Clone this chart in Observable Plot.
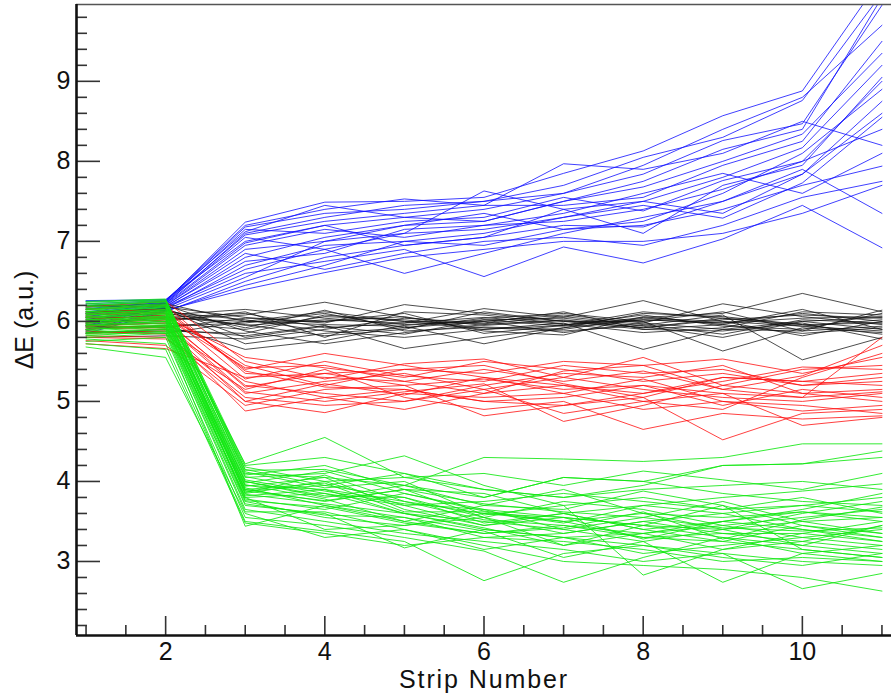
<!DOCTYPE html>
<html>
<head>
<meta charset="utf-8">
<script src="https://cdn.jsdelivr.net/npm/d3@7"></script>
<script src="https://cdn.jsdelivr.net/npm/@observablehq/plot@0.6"></script>
<style>
  html, body { margin: 0; padding: 0; background: #fff; }
  #chart { width: 891px; height: 695px; overflow: hidden; }
  #chart g[aria-label="x-axis label"] text { letter-spacing: 1.9px; }
</style>
</head>
<body>
<div id="chart"></div>
<script>
// Strip numbers (x positions of each measurement)
const strips = [1, 2, 3, 4, 5, 6, 7, 8, 9, 10, 11];

// Axis ticks
const xMajor = [2, 4, 6, 8, 10];
const xMinor = [1, 1.5, 2.5, 3, 3.5, 4.5, 5, 5.5, 6.5, 7, 7.5, 8.5, 9, 9.5, 10.5, 11];
const yMajor = [3, 4, 5, 6, 7, 8, 9];
const yMinor = [2.2, 2.4, 2.6, 2.8, 3.2, 3.4, 3.6, 3.8, 4.2, 4.4, 4.6, 4.8, 5.2, 5.4, 5.6, 5.8,
                6.2, 6.4, 6.6, 6.8, 7.2, 7.4, 7.6, 7.8, 8.2, 8.4, 8.6, 8.8, 9.2, 9.4, 9.6, 9.8];
const xDomain = [0.88, 11.12];
const yDomain = [2.075, 9.96];

// ΔE per strip — blue group
const blueRuns = [
  [6.20,6.25,7.24,7.49,7.50,7.55,7.85,8.13,8.57,8.88,10.3],
  [6.10,6.22,7.10,7.30,7.45,7.50,7.70,8.05,8.30,8.76,10.1],
  [6.25,6.27,7.00,7.20,7.30,7.40,7.60,7.84,8.26,8.47,9.95],
  [5.95,6.18,6.80,7.05,7.20,7.25,7.50,7.68,8.00,8.34,9.35],
  [6.05,6.20,6.90,7.00,7.10,7.63,7.40,7.50,7.80,8.17,9.20],
  [6.15,6.24,7.15,7.10,7.25,7.30,7.55,7.38,7.76,8.00,9.00],
  [5.85,6.12,6.50,6.80,6.95,7.05,7.20,7.18,7.50,7.84,8.75],
  [6.00,6.16,6.70,6.95,7.00,7.10,7.30,7.45,7.29,7.73,8.55],
  [6.22,6.26,7.20,7.40,7.53,7.45,7.97,7.90,8.10,8.50,8.20],
  [5.90,6.14,6.40,6.61,6.80,6.90,7.00,7.00,7.10,7.35,7.70],
  [6.08,6.21,6.95,7.15,7.05,7.20,7.35,7.60,7.85,7.60,8.10],
  [6.12,6.23,7.05,6.90,6.60,6.85,7.10,7.30,7.50,7.90,7.35],
  [5.98,6.17,6.60,6.75,6.90,6.56,6.93,6.73,7.03,7.45,6.92],
  [6.18,6.25,7.18,7.35,7.40,7.50,7.60,7.95,8.40,8.80,9.70],
  [6.02,6.19,6.75,6.85,7.15,7.20,7.25,7.40,7.65,8.00,8.40],
  [5.88,6.13,6.45,6.70,7.00,6.95,7.15,7.20,7.40,7.70,7.94],
  [6.16,6.24,7.08,7.25,7.35,7.45,7.45,7.55,7.95,8.25,9.50],
  [6.06,6.20,6.85,6.65,6.85,7.00,7.05,6.95,7.20,7.55,7.75],
  [5.94,6.15,6.55,7.00,7.20,7.35,7.15,7.25,7.60,8.10,8.90],
  [6.26,6.27,7.12,7.45,7.30,7.25,7.50,7.75,8.15,8.40,10.05],
  [6.00,6.18,6.65,6.90,7.10,7.15,7.30,7.50,7.35,7.84,8.60],
  [6.10,6.22,6.98,7.20,6.95,7.05,7.40,7.10,7.70,7.95,9.05]
];

// ΔE per strip — black group
const blackRuns = [
  [6.05,6.10,5.95,6.02,5.98,6.05,5.96,6.02,5.98,6.10,6.00],
  [5.98,6.02,6.08,6.24,6.05,5.95,6.01,5.92,6.04,5.96,5.98],
  [6.12,6.15,5.72,5.85,5.92,6.00,6.08,5.98,5.90,5.88,5.94],
  [5.90,5.95,5.65,5.76,5.95,6.02,5.94,6.05,6.10,6.35,6.12],
  [6.20,6.18,6.05,5.98,6.21,6.10,6.00,5.90,5.96,5.85,5.92],
  [5.85,5.90,5.82,5.95,5.66,5.80,5.92,6.02,5.98,6.04,6.06],
  [6.00,6.05,6.10,5.92,5.98,6.16,6.05,6.26,6.00,5.94,6.02],
  [5.95,5.98,5.90,6.06,6.02,5.92,5.88,5.95,6.08,5.52,5.80],
  [6.08,6.12,6.02,5.88,5.80,5.90,5.98,5.65,5.90,6.00,5.90],
  [5.92,5.94,5.98,6.10,5.92,6.04,6.10,6.00,5.63,5.92,5.86],
  [6.15,6.20,5.88,5.72,5.86,5.96,6.02,5.92,6.02,6.08,6.04],
  [5.88,5.85,6.00,6.00,6.10,5.85,5.95,6.08,5.94,5.90,6.10],
  [6.02,6.08,6.15,6.04,5.96,6.00,5.86,5.98,6.22,6.06,5.96],
  [5.80,5.82,5.78,5.90,6.04,5.98,6.12,5.90,5.88,5.98,5.78],
  [6.10,6.14,5.92,6.14,5.88,5.93,5.90,6.04,6.00,5.82,6.00],
  [5.96,6.00,6.12,5.80,6.12,6.08,5.97,5.86,5.92,6.12,6.08],
  [6.18,6.22,6.00,5.96,5.94,5.72,5.92,6.10,6.06,5.96,5.84],
  [5.86,5.88,5.85,6.08,6.00,5.97,6.06,5.96,5.84,6.02,5.98],
  [6.04,6.06,5.96,5.82,5.90,6.12,6.00,6.00,6.12,5.88,6.14],
  [5.94,5.92,6.04,6.00,6.06,5.88,5.83,6.06,5.96,6.15,5.90],
  [6.12,6.16,5.80,5.94,5.84,6.02,6.04,5.94,5.80,6.00,6.05],
  [5.98,6.04,6.00,6.12,6.00,5.90,5.95,6.12,6.04,5.94,5.88]
];

// ΔE per strip — red group
const redRuns = [
  [5.72,5.66,5.30,5.35,5.20,5.28,5.15,5.20,5.10,5.05,5.12],
  [6.00,6.05,5.55,5.42,5.30,5.50,5.40,5.25,5.35,5.20,5.30],
  [5.90,5.95,5.10,5.25,5.35,5.15,5.30,5.55,5.20,5.40,5.45],
  [6.10,6.12,5.40,5.60,5.45,5.30,5.20,5.10,5.30,5.25,5.20],
  [5.85,5.88,4.88,5.05,5.15,5.00,4.95,5.05,4.52,4.85,4.90],
  [6.05,6.00,5.20,5.10,5.00,5.20,5.35,5.30,5.45,5.10,5.00],
  [5.95,5.92,5.00,4.86,5.10,5.05,5.10,4.90,5.00,4.95,4.85],
  [6.15,6.20,5.35,5.30,5.25,5.40,5.25,5.38,5.15,5.05,5.80],
  [5.80,5.78,5.15,5.40,5.05,4.90,5.00,4.65,4.85,4.78,4.82],
  [6.02,6.08,5.45,5.20,5.40,5.35,5.50,5.45,5.53,5.35,5.55],
  [5.92,5.90,5.25,5.05,4.90,5.10,5.20,5.00,4.90,5.30,5.60],
  [6.18,6.25,5.50,5.28,5.47,5.53,5.30,5.15,5.05,5.00,5.10],
  [5.76,5.70,4.95,5.15,5.20,4.82,4.95,5.10,5.25,5.43,5.40],
  [6.08,6.10,5.28,5.50,5.32,5.25,5.45,5.35,5.40,5.20,5.25],
  [5.88,5.84,5.05,4.95,5.00,5.15,4.85,5.00,5.10,4.70,4.80],
  [6.12,6.15,5.38,5.18,5.15,5.00,5.05,5.20,4.95,5.15,5.05],
  [5.98,6.02,5.18,5.35,5.40,5.45,5.22,5.05,5.30,5.25,5.35],
  [5.82,5.80,5.00,5.22,5.08,5.30,5.10,5.28,5.00,4.88,4.95],
  [6.06,6.04,5.42,5.45,5.25,5.10,5.38,5.45,5.15,5.32,5.70],
  [5.94,5.98,5.12,5.00,5.12,5.22,4.75,4.95,5.20,5.10,5.15]
];

// ΔE per strip — green group
const greenRuns = [
  [6.20,6.25,4.10,4.05,3.95,4.30,4.28,4.25,4.30,4.47,4.47],
  [6.10,6.15,4.22,4.55,4.05,3.90,3.80,3.95,4.20,4.22,4.38],
  [6.00,6.05,3.95,3.90,3.75,3.60,3.55,3.45,3.40,3.50,3.55],
  [5.90,5.95,3.80,3.85,3.60,3.40,3.30,3.20,3.10,3.00,2.95],
  [6.15,6.20,4.05,4.10,4.32,3.95,3.70,3.80,3.65,3.70,3.80],
  [5.80,5.85,3.44,3.70,3.50,3.35,3.45,3.30,3.25,3.15,3.05],
  [6.05,6.10,3.90,3.75,3.90,3.55,3.20,3.35,3.50,3.40,3.30],
  [5.95,6.00,3.85,4.00,3.70,3.45,3.60,3.70,3.80,3.88,3.97],
  [6.25,6.28,4.15,3.95,4.10,3.80,4.05,4.00,3.85,3.75,3.70],
  [5.68,5.55,3.60,3.30,3.40,3.20,3.00,2.95,2.90,2.80,2.63],
  [6.12,6.18,3.98,4.13,3.85,3.63,3.50,3.60,3.55,3.62,3.50],
  [5.85,5.90,3.70,3.60,3.17,3.40,3.30,3.10,3.20,3.30,3.40],
  [6.02,6.06,4.00,3.80,3.95,3.70,3.65,3.88,3.70,3.45,3.35],
  [5.75,5.80,3.55,3.45,3.30,3.13,2.74,3.05,3.30,3.10,3.00],
  [6.18,6.22,4.18,4.00,4.05,4.10,3.95,4.13,4.02,3.90,4.10],
  [5.92,5.96,3.82,3.90,3.60,3.50,3.40,3.25,2.74,3.10,3.20],
  [6.08,6.12,3.92,3.70,3.55,3.30,3.35,3.50,3.60,3.40,3.25],
  [5.98,6.02,3.88,3.95,3.80,3.55,3.75,3.65,3.45,3.55,3.65],
  [6.22,6.26,4.08,4.20,3.90,3.85,3.60,3.40,3.50,3.65,3.85],
  [5.78,5.72,3.50,3.38,3.25,2.76,3.10,3.20,3.05,2.95,3.10],
  [6.14,6.19,4.02,3.85,3.70,3.75,3.85,3.75,3.65,3.80,3.60],
  [5.88,5.93,3.75,3.55,3.45,3.60,3.50,3.30,3.35,3.25,3.15],
  [6.04,6.09,3.94,4.05,3.65,3.45,3.55,3.45,3.30,3.20,3.45],
  [5.94,5.98,3.78,3.65,3.85,3.65,3.40,3.55,3.75,3.50,3.35],
  [6.16,6.21,4.12,3.92,4.00,3.58,3.70,2.83,3.15,3.35,3.50],
  [5.82,5.88,3.65,3.50,3.35,3.25,3.15,3.00,3.10,2.66,2.85],
  [6.06,6.11,3.96,3.78,3.50,3.70,3.90,3.60,3.40,3.60,3.75],
  [5.96,6.00,3.86,4.08,3.75,3.52,3.45,3.35,3.45,3.30,3.20],
  [6.24,6.27,4.20,4.30,4.10,3.90,3.80,3.90,3.95,4.00,3.90],
  [5.72,5.65,3.48,3.35,3.20,3.30,3.25,3.15,3.00,3.05,3.00],
  [6.10,6.14,4.00,3.82,3.80,3.48,3.60,3.40,3.25,3.45,3.30],
  [5.86,5.91,3.72,3.58,3.55,3.38,3.05,3.25,3.40,3.20,3.10],
  [6.00,6.04,3.90,3.98,3.62,3.62,3.48,3.70,3.60,3.70,3.62],
  [6.20,6.24,4.14,4.15,3.95,3.80,4.05,4.00,4.20,4.22,4.30],
  [5.90,5.94,3.80,3.40,3.45,3.55,3.35,3.50,3.35,3.35,3.25],
  [6.08,6.13,3.84,3.72,3.60,3.42,3.20,3.45,3.70,3.15,3.05],
  [5.84,5.86,3.62,3.62,3.40,3.15,3.30,3.35,3.15,3.25,3.45],
  [6.12,6.17,4.06,3.88,3.72,3.65,3.55,3.28,3.50,3.62,3.55],
  [5.98,6.03,3.88,3.76,3.90,3.72,3.62,3.55,3.42,3.38,3.42],
  [6.02,6.07,3.76,3.68,3.48,3.35,3.42,3.62,3.28,3.52,3.68]
];

function toRows(runs, group) {
  const rows = [];
  runs.forEach((run, i) => run.forEach((v, j) => rows.push({group, run: group + i, strip: strips[j], de: v})));
  return rows;
}
const blueRows = toRows(blueRuns, "blue");
const blackRows = toRows(blackRuns, "black");
const redRows = toRows(redRuns, "red");
const greenRows = toRows(greenRuns, "green");

const font = "'Liberation Sans', Arial, Helvetica, sans-serif";

const chart = Plot.plot({
  width: 891,
  height: 695,
  marginLeft: 76,
  marginRight: 0,
  marginTop: 4,
  marginBottom: 60,
  style: {fontFamily: font, fontSize: "25px", color: "#111", background: "#fff", overflow: "hidden"},
  x: {domain: xDomain},
  y: {domain: yDomain},
  marks: [
    Plot.line(blueRows, {x: "strip", y: "de", z: "run", stroke: "#1010ff", strokeWidth: 1, strokeOpacity: 0.8, clip: true}),
    Plot.line(blackRows, {x: "strip", y: "de", z: "run", stroke: "#111", strokeWidth: 1, strokeOpacity: 0.75, clip: true}),
    Plot.line(redRows, {x: "strip", y: "de", z: "run", stroke: "#ff1010", strokeWidth: 1, strokeOpacity: 0.8, clip: true}),
    Plot.line(greenRows, {x: "strip", y: "de", z: "run", stroke: "#10e810", strokeWidth: 1, strokeOpacity: 0.85, clip: true}),
    // top frame line
    Plot.ruleY([yDomain[1]], {stroke: "#555", strokeWidth: 1.3}),
    // minor ticks (inward)
    Plot.axisX({ticks: xMinor, tickSize: -10, tickFormat: () => "", label: null, stroke: "#333", strokeWidth: 1.6}),
    Plot.axisY({ticks: yMinor, tickSize: -11, tickFormat: () => "", label: null, stroke: "#333", strokeWidth: 1.6}),
    // major ticks (inward)
    Plot.axisX({ticks: xMajor, tickSize: -19, tickFormat: () => "", label: null, stroke: "#333", strokeWidth: 1.6}),
    Plot.axisY({ticks: yMajor, tickSize: -24, tickFormat: () => "", label: null, stroke: "#333", strokeWidth: 1.6}),
    // tick labels and axis titles
    Plot.axisX({ticks: xMajor, tickSize: 0, tickPadding: 7, label: "Strip Number", labelAnchor: "center", labelOffset: 52, labelArrow: "none", fill: "#111"}),
    Plot.axisY({ticks: yMajor, tickSize: 0, tickPadding: 6, label: "ΔE (a.u.)", labelAnchor: "center", labelOffset: 61, labelArrow: "none", fill: "#111"}),
    // axis lines
    Plot.ruleX([xDomain[0]], {stroke: "#111", strokeWidth: 2.6}),
    Plot.ruleY([yDomain[0]], {stroke: "#111", strokeWidth: 2.6})
  ]
});
document.getElementById("chart").appendChild(chart);
</script>
</body>
</html>
